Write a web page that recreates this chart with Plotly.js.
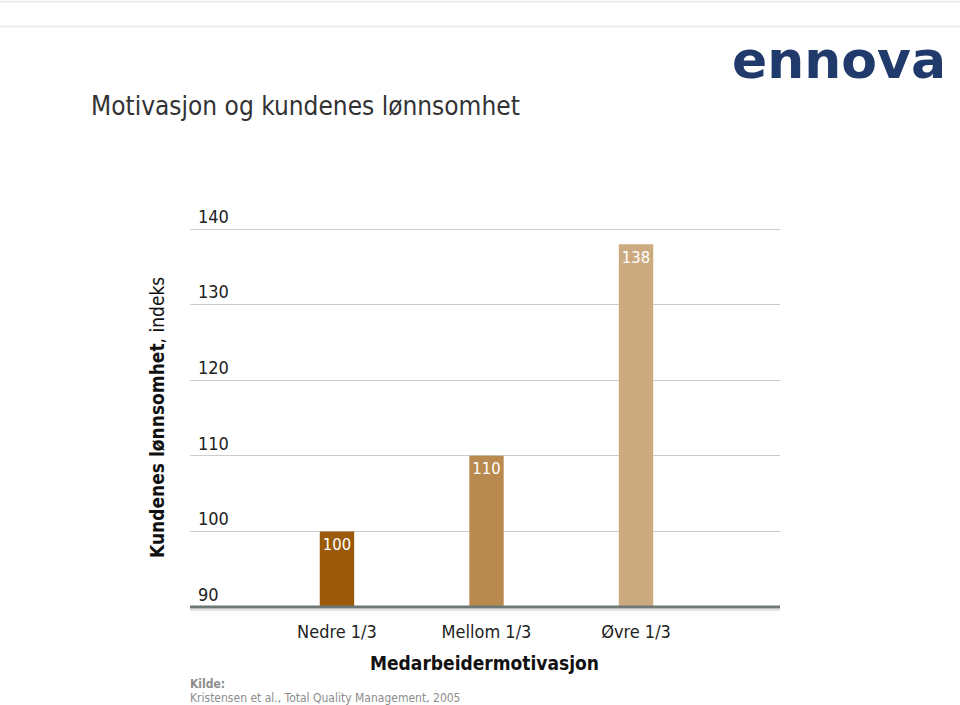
<!DOCTYPE html>
<html>
<head>
<meta charset="utf-8">
<script src="https://cdn.plot.ly/plotly-3.0.1.min.js"></script>
<style>html,body{margin:0;padding:0;background:#fff;}#chart{width:960px;height:705px;}</style>
</head>
<body>
<div id="chart"></div>
<script>
const categories = ["Nedre 1/3", "Mellom 1/3", "Øvre 1/3"];
const values = [100, 110, 138];
const barColors = ["#9b5a0a", "#b98a50", "#ccaa80"];
const yTicks = [90, 100, 110, 120, 130, 140];

const FONT = "DejaVu Sans Condensed, DejaVu Sans, sans-serif";
const BASE = 90;

const trace = {
  type: "bar",
  x: [0, 1, 2],
  y: values.map(v => v - BASE),
  base: BASE,
  width: 0.23,
  marker: {color: barColors, line: {width: 0}},
  text: values.map(String),
  textposition: "inside",
  insidetextanchor: "end",
  textangle: 0,
  textfont: {family: FONT, size: 17, color: "#ffffff"},
  hoverinfo: "skip",
  cliponaxis: false
};

// plot area: y=90 at 607px, 7.54 px per unit; top extended to 143 so the 140 label fits
const layout = {
  width: 960, height: 705,
  margin: {l: 190, r: 180, t: 206, b: 98},
  paper_bgcolor: "#ffffff",
  plot_bgcolor: "#ffffff",
  showlegend: false,
  font: {family: FONT, color: "#333333"},
  xaxis: {
    range: [-0.983, 2.963],
    tickvals: [0, 1, 2],
    ticktext: categories,
    showgrid: false,
    zeroline: false,
    showline: false,
    ticks: "",
    ticklabelstandoff: 12,
    tickfont: {family: FONT, size: 18, color: "#222222"},
    fixedrange: true
  },
  yaxis: {
    range: [90, 143.05],
    tickvals: yTicks,
    ticktext: yTicks.map(String),
    ticklabelposition: "inside top",
    ticklabeloverflow: "allow",
    ticklabelstandoff: 5,
    tickfont: {family: FONT, size: 18, color: "#222222"},
    showgrid: true,
    gridcolor: "#cccccc",
    gridwidth: 1,
    zeroline: false,
    showline: false,
    ticks: "",
    fixedrange: true
  },
  shapes: [
    {type: "line", xref: "paper", yref: "paper", x0: 0, x1: 1, y0: 0, y1: 0,
     line: {color: "#6e7877", width: 3}},
    {type: "line", xref: "paper", yref: "paper", x0: 0, x1: 1, y0: -0.0075, y1: -0.0075,
     line: {color: "#c5cbcb", width: 1}},
    {type: "line", xref: "paper", yref: "paper", x0: -0.322, x1: 1.305, y0: 1.5095, y1: 1.5095,
     line: {color: "#eeeeee", width: 2}},
    {type: "line", xref: "paper", yref: "paper", x0: -0.322, x1: 1.305, y0: 1.4475, y1: 1.4475,
     line: {color: "#eeeeee", width: 2}}
  ],
  annotations: [
    {text: "Motivasjon og kundenes lønnsomhet", xref: "paper", yref: "paper",
     x: -0.172, y: 1.25, xanchor: "left", yanchor: "middle", showarrow: false,
     font: {family: FONT, size: 26, color: "#333333"}},
    {text: "<b>ennova</b>", xref: "paper", yref: "paper",
     x: 1.2746, xshift: 6, y: 1.364, xanchor: "right", yanchor: "middle", showarrow: false,
     font: {family: "DejaVu Sans, sans-serif", size: 52, color: "#1f3a6b"}},
    {text: "<b>Kundenes lønnsomhet</b>, indeks", xref: "paper", yref: "paper",
     x: 0, xshift: -33, y: 0, yshift: 189, xanchor: "center", yanchor: "middle", textangle: -90,
     showarrow: false, font: {family: FONT, size: 19, color: "#111111"}},
    {text: "<b>Medarbeidermotivasjon</b>", xref: "paper", yref: "paper",
     x: 0.499, y: 0, yshift: -56, xanchor: "center", yanchor: "middle", showarrow: false,
     font: {family: FONT, size: 19, color: "#111111"}},
    {text: "<b>Kilde:</b>", xref: "paper", yref: "paper",
     x: 0, xshift: -2, y: 0, yshift: -77, xanchor: "left", yanchor: "middle", showarrow: false,
     font: {family: FONT, size: 12, color: "#8c8c8c"}},
    {text: "Kristensen et al., Total Quality Management, 2005", xref: "paper", yref: "paper",
     x: 0, xshift: -2, y: 0, yshift: -91, xanchor: "left", yanchor: "middle", showarrow: false,
     font: {family: FONT, size: 12, color: "#8c8c8c"}}
  ]
};

Plotly.newPlot("chart", [trace], layout, {staticPlot: true, displayModeBar: false});
</script>
</body>
</html>
